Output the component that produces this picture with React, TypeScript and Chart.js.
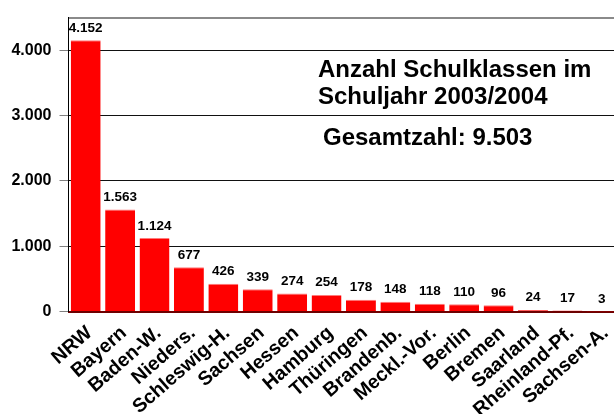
import React, { useEffect, useRef } from "react";
import { Chart, registerables } from "chart.js";

Chart.register(...registerables);

const categories: string[] = [
  "NRW", "Bayern", "Baden-W.", "Nieders.", "Schleswig-H.", "Sachsen", "Hessen", "Hamburg",
  "Thüringen", "Brandenb.", "Meckl.-Vor.", "Berlin", "Bremen", "Saarland", "Rheinland-Pf.", "Sachsen-A.",
];
const classCounts: number[] = [4152, 1563, 1124, 677, 426, 339, 274, 254, 178, 148, 118, 110, 96, 24, 17, 3];
const yTickValues: number[] = [0, 1000, 2000, 3000, 4000];
const yMax = 4500;
const titleLines: string[] = ["Anzahl Schulklassen im", "Schuljahr 2003/2004"];
const totalLine = "Gesamtzahl: 9.503";

const FONT = "'Liberation Sans', Arial, Helvetica, sans-serif";

function fmt(v: number): string {
  const s = Math.round(v).toString();
  return s.replace(/\B(?=(\d{3})+(?!\d))/g, ".");
}

const labelPlugin = {
  id: "valueLabels",
  afterDatasetsDraw(chart: any) {
    const ctx = chart.ctx;
    const meta = chart.getDatasetMeta(0);
    ctx.save();
    ctx.fillStyle = "#000";
    ctx.font = `bold 13.5px ${FONT}`;
    ctx.textAlign = "center";
    ctx.textBaseline = "alphabetic";
    meta.data.forEach((bar: any, i: number) => {
      ctx.fillText(fmt(classCounts[i]), bar.x, bar.y - 8.5);
    });
    ctx.restore();
  },
  afterDraw(chart: any) {
    const ctx = chart.ctx;
    const xs = chart.scales.x;
    ctx.save();
    ctx.fillStyle = "#000";
    // rotated category labels
    ctx.font = `bold 19.5px ${FONT}`;
    ctx.textAlign = "right";
    ctx.textBaseline = "alphabetic";
    const baseY = xs.top + 23;
    categories.forEach((name, i) => {
      const x = xs.getPixelForTick(i) + 7.5;
      ctx.save();
      ctx.translate(x, baseY);
      ctx.rotate((-41 * Math.PI) / 180);
      ctx.fillText(name, 0, 0);
      ctx.restore();
    });
    // title block
    ctx.font = `bold 24px ${FONT}`;
    ctx.textAlign = "left";
    ctx.textBaseline = "middle";
    ctx.fillText(titleLines[0], 318, 70);
    ctx.fillText(titleLines[1], 318, 97);
    ctx.fillText(totalLine, 323, 138);
    ctx.restore();
  },
};

export default function App() {
  const ref = useRef<HTMLCanvasElement | null>(null);
  useEffect(() => {
    document.body.style.margin = "0";
    const canvas = ref.current!;
    const chart = new Chart(canvas, {
      type: "bar",
      data: {
        labels: categories,
        datasets: [
          {
            data: classCounts,
            backgroundColor: "#ff0000",
            borderColor: "#ff7a7a",
            borderWidth: { top: 1, left: 0, right: 0, bottom: 0 },
            borderSkipped: "bottom",
            barPercentage: 0.87,
            categoryPercentage: 1,
          },
        ],
      },
      options: {
        animation: false,
        responsive: false,
        devicePixelRatio: 1,
        layout: { padding: { top: 15, left: 0, right: 0, bottom: 0 } },
        plugins: { legend: { display: false }, tooltip: { enabled: false }, title: { display: false } },
        scales: {
          x: {
            grid: { drawOnChartArea: false, drawTicks: false },
            border: { display: true, color: "#6e0000", width: 2 },
            ticks: { display: false, autoSkip: false },
            afterFit(scale: any) {
              scale.height = 102.5;
            },
          },
          y: {
            min: 0,
            max: yMax,
            afterBuildTicks(scale: any) {
              scale.ticks = [...yTickValues, yMax].map((v) => ({ value: v }));
            },
            grid: {
              color: (c: any) => (c.tick && c.tick.value === yMax ? "#8a8a8a" : "#111"),
              lineWidth: (c: any) => (c.tick && c.tick.value === yMax ? 2 : 1),
              tickColor: (c: any) => (c.tick && c.tick.value === yMax ? "rgba(0,0,0,0)" : "#808080"),
              tickLength: 9,
            },
            border: { display: true, color: "#000", width: 1 },
            ticks: {
              padding: 8,
              color: "#000",
              font: { family: FONT, size: 16, weight: "bold" },
              callback: (v: any) => (v === yMax ? "" : fmt(Number(v))),
            },
            afterFit(scale: any) {
              scale.width = 68.5;
            },
          },
        },
      },
      plugins: [labelPlugin],
    });
    return () => chart.destroy();
  }, []);
  return (
    <div style={{ width: 614, height: 414, overflow: "hidden", background: "#fff" }}>
      <canvas ref={ref} width={619} height={414} style={{ display: "block", width: 619, height: 414 }} />
    </div>
  );
}
